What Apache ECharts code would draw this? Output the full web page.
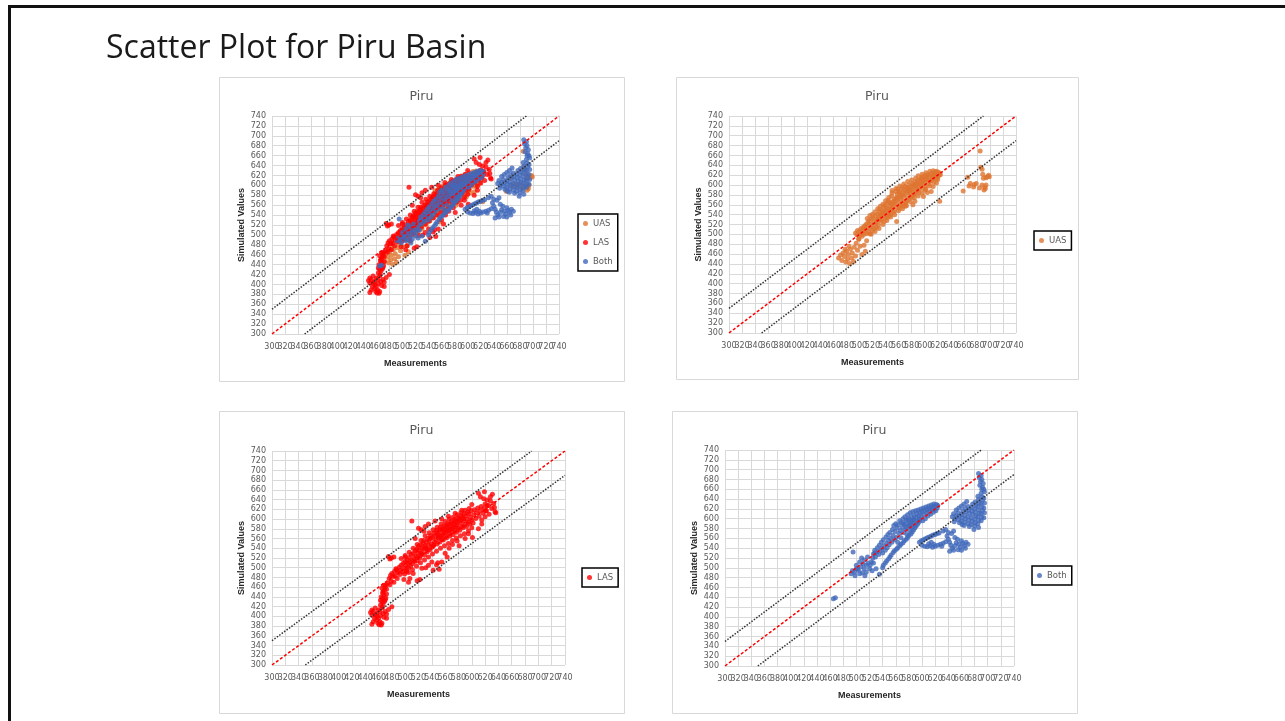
<!DOCTYPE html>
<html>
<head>
<meta charset="utf-8">
<title>Scatter Plot for Piru Basin</title>
<script src="https://cdn.jsdelivr.net/npm/echarts@6/dist/echarts.min.js"></script>
<style>
  html, body { margin: 0; padding: 0; background: #fff; }
  #slide { width: 1285px; height: 721px; }
</style>
</head>
<body>
<div id="slide"></div>
<script>
// axis range, same for both axes of every panel
const axisMin = 300;
const axisMax = 740;
const axisStep = 20;
// x tick labels are drawn by a category axis so every one shows (they overlap, as in Excel)
const xTickLabels = ['300','320','340','360','380','400','420','440','460','480','500','520',
  '540','560','580','600','620','640','660','680','700','720','740'];

// reference lines: 1:1 and +/-50
const oneToOne = [[300, 300], [740, 740]];
const upperBand = [[300, 350], [690, 740]];
const lowerBand = [[350, 300], [740, 690]];

// [measured, simulated]
const uasPoints = [
  // lower tail
  [468,452],[471,458],[473,447],[475,462],[477,455],[479,444],[480,466],[482,450],[483,459],[485,441],
  [486,470],[488,452],[489,462],[491,445],[492,474],[494,456],[495,482],[497,468],[499,490],[501,476],
  [504,459],[507,478],[509,466],[511,487],[478,470],[484,476],
  // main band
  [494,503],[496,499],[497,508],
  [499,491],[500,506],[501,498],[502,511],[503,503],
  [504,496],[505,514],[506,507],[507,500],[508,517],
  [509,509],[510,520],[511,502],[512,514],[513,524],
  [514,505],[515,527],[516,512],[517,520],[518,531],[516,501],
  [519,516],[520,508],[521,533],[522,524],[523,512],
  [524,537],[525,521],[526,514],[527,530],[528,541],[526,526],
  [529,519],[530,535],[531,545],[532,527],[533,539],[531,551],
  [534,530],[535,548],[536,537],[537,555],[538,526],[536,543],
  [539,559],[540,533],[541,548],[542,540],[543,563],[541,554],[543,534],
  [544,569],[545,545],[546,538],[547,558],[548,551],[546,565],[548,541],
  [549,578],[550,553],[551,566],[552,545],[553,572],[550,584],[552,559],
  [554,548],[555,562],[556,587],[557,575],[558,555],[556,570],[558,582],
  [559,592],[560,565],[561,553],[562,580],[563,571],[561,587],[563,559],
  [564,576],[565,594],[566,562],[567,585],[568,568],[566,557],[568,591],
  [569,581],[570,597],[571,566],[572,588],[573,574],[571,562],[573,595],
  [574,592],[575,570],[576,600],[577,583],[578,577],[576,588],
  [579,597],[580,575],[581,603],[582,587],[583,580],[581,592],
  [584,601],[585,583],[586,606],[587,594],[588,588],[586,598],
  [589,609],[590,590],[591,603],[592,596],[593,611],[591,585],
  [594,599],[595,614],[596,593],[597,607],[598,602],[596,616],
  [599,618],[600,605],[601,597],[602,612],[603,620],[601,590],
  [604,611],[605,621],[606,602],[607,616],[608,607],
  [609,623],[610,609],[611,618],[612,613],[613,625],
  [614,616],[615,623],[616,620],[617,626],[618,613],
  [619,622],[620,617],[621,626],[622,620],[623,624],[624,621],
  [538,546],[544,552],[553,566],[558,573],[562,585],[567,578],[574,585],[578,590],[583,598],[588,602],
  [593,606],[598,610],[603,615],[549,562],[534,538],[529,530],
  // upper edge of the band
  [512,532],[516,538],[520,541],[524,546],[528,552],[532,557],[536,561],[540,568],[545,575],[550,589],
  [556,593],[562,598],[568,602],[574,607],[580,610],[586,614],[590,619],[596,622],[602,625],[608,628],
  [613,629],[618,628],
  // lower edge of the band
  [518,500],[524,506],[530,512],[536,520],[542,528],[548,535],[554,540],[560,548],[566,552],[572,558],
  [578,566],[584,574],[590,578],[596,584],[602,592],[608,598],[614,606],[620,611],
  // below the band
  [557,526],[570,557],[582,560],[585,567],[598,577],[604,585],[610,587],[613,597],[618,604],[623,567],
  // right-hand group
  [659,588],[666,616],[668,598],[670,603],[675,596],[676,601],[679,603],[684,594],[685,669],[686,636],
  [688,600],[688,632],[689,622],[690,614],[691,590],[692,596],[693,593],[694,600],[694,615],[696,617],
  [698,620],[699,617]
];

const lasPoints = [
  // low cluster
  [448,408],[450,403],[450,413],[450,384],[452,389],[452,410],[454,396],[455,403],[455,417],[457,392],
  [457,406],[458,400],[459,386],[460,396],[460,413],[461,383],[462,389],[462,410],[463,402],[464,382],
  [465,386],[465,417],[467,406],[468,398],[470,410],[472,396],[472,405],[475,414],[480,420],
  // near-vertical streak
  [463,423],[463,433],[464,440],[465,430],[465,458],[466,420],[466,437],[466,448],[467,427],[467,451],
  [468,444],[468,464],[469,431],[469,455],[470,434],[470,461],[471,438],[471,465],[472,446],[472,456],
  // step up to the band
  [474,468],[476,478],[477,465],[479,472],[480,488],[482,482],[483,470],[484,492],[478,484],[486,498],
  [475,523],[477,518],[479,520],[483,522],[494,519],[500,522],
  // main band
  [485,483],[487,496],[488,478],[489,490],
  [491,501],[492,486],[493,495],[494,505],
  [496,491],[497,509],[498,499],[499,487],[500,513],
  [501,505],[502,496],[503,516],[504,509],[505,500],
  [506,521],[507,512],[508,503],[509,527],[510,516],
  [511,508],[512,529],[513,519],[514,513],[515,535],
  [516,524],[517,538],[518,514],[519,531],[520,544],[518,521],
  [521,536],[522,520],[523,547],[524,529],[525,540],[523,525],
  [526,531],[527,550],[528,539],[529,526],[530,545],[528,556],
  [531,541],[532,553],[533,533],[534,560],[535,546],[533,538],
  [536,556],[537,537],[538,566],[539,549],[540,542],[538,560],
  [541,562],[542,544],[543,571],[544,553],[545,566],[543,548],
  [546,557],[547,577],[548,549],[549,567],[550,561],[548,572],
  [551,574],[552,553],[553,583],[554,566],[555,558],[553,578],[551,563],
  [556,580],[557,557],[558,572],[559,587],[560,564],[558,577],[556,568],
  [561,585],[562,561],[563,577],[564,591],[565,569],[563,582],[561,573],
  [566,589],[567,565],[568,579],[569,595],[570,573],[568,585],[566,576],
  [571,592],[572,568],[573,583],[574,599],[575,576],[573,589],[571,580],
  [576,596],[577,573],[578,588],[579,603],[580,581],[578,593],[576,584],
  [581,600],[582,577],[583,592],[584,607],[585,585],[583,597],
  [586,604],[587,582],[588,596],[589,611],[590,589],[588,600],
  [591,607],[592,585],[593,600],[594,614],[595,594],
  [596,611],[597,590],[598,604],[599,617],[600,598],
  [602,592],[603,609],[604,619],[606,601],[607,613],[609,623],[611,606],[612,617],[614,626],[617,612],
  [618,622],[620,631],[622,617],[623,628],
  // outer edges of the band
  [500,525],[506,532],[512,540],[518,548],[524,556],[530,566],[536,572],[542,578],[548,583],[554,590],
  [560,595],[566,600],[572,604],[578,609],[584,613],[590,618],[596,622],
  [505,490],[511,496],[517,503],[523,510],[529,516],[535,522],[541,528],[547,534],[553,540],[559,545],
  [565,550],[571,556],[577,561],[583,566],[589,570],[595,576],[600,582],
  // below the band
  [498,476],[502,492],[505,470],[507,478],[512,488],[518,473],[522,476],[525,499],[531,500],[535,505],
  [540,512],[542,495],[547,506],[549,510],[551,497],[555,512],[560,530],[563,522],[566,540],[571,548],
  [578,555],[581,545],[590,560],[595,570],[601,562],[610,580],[615,590],
  // above the band
  [510,596],[515,560],[520,581],[524,578],[528,575],[530,585],[535,590],[545,596],[555,600],[565,606],
  [575,612],[585,618],[600,630],
  // upper end
  [610,653],[613,646],[615,598],[618,642],[619,656],[620,605],[621,617],[623,639],[625,628],[626,610],
  [628,637],[628,646],[630,622],[631,651],[633,632],[634,624],[635,615],[636,613]
];

const bothPoints = [
  // two low points
  [465,437],[468,439],
  // lower-left group
  [492,488],[494,494],[495,532],[497,491],[498,484],[500,498],[500,505],[502,498],[503,495],[505,488],
  [505,512],[507,502],[508,520],[509,490],[510,508],[512,498],[512,516],[513,484],[515,491],[515,505],
  [517,522],[518,510],[520,498],[521,505],[523,512],[525,520],[526,510],[528,530],
  [524,494],[530,498],[535,487],[540,500],
  // band along the 1:1 line
  [526,528],[528,536],[529,522],[531,531],[532,541],[534,527],[535,546],[536,535],[538,552],[539,540],
  [540,530],[541,557],[542,545],[544,536],[545,563],[546,550],[547,541],[548,568],[549,556],[550,547],
  [551,572],[552,560],[554,552],[555,578],[556,566],[557,586],[558,557],[559,574],[560,590],[561,562],
  [562,581],[563,552],[564,587],[565,570],[566,596],[567,576],[568,561],[569,592],[570,582],[571,600],
  [572,572],[573,588],[574,604],[575,578],[576,596],[577,568],[578,608],[579,586],[580,600],[581,576],
  [582,612],[583,592],[584,604],[585,582],[586,614],[587,598],[588,606],[589,588],[590,616],[591,602],
  [592,610],[593,594],[594,618],[595,606],[596,600],[597,612],[598,620],[599,604],[600,614],[601,596],
  [602,622],[603,608],[604,617],[605,600],[606,624],[607,612],[608,619],[609,606],[610,626],[611,615],
  [612,621],[613,609],[614,628],[615,618],[616,624],[617,613],[618,630],[619,620],[620,626],[621,616],
  [622,629],[623,622],[624,627],
  [572,590],[576,582],[580,590],[584,596],[588,598],[578,598],[582,584],[586,590],
  // thin curved arm under the band
  [541,505],[544,510],[546,514],[549,518],[551,522],[553,526],[556,531],[558,535],[561,538],[563,541],
  [566,545],[568,548],[571,551],[573,555],[576,558],[578,562],[580,566],[583,569],[585,573],[587,577],
  [589,581],[591,585],[593,589],[595,593],[596,597],
  // lower arm
  [596,552],[599,555],[602,557],[605,559],[608,561],[611,563],[614,565],[617,567],[620,568],[623,570],
  [626,571],[600,546],[604,544],[608,543],[612,545],[616,542],[620,544],[624,546],[628,548],[632,550],
  [636,553],[610,549],[618,548],[630,544],[614,552],
  // group under the right cluster
  [632,575],[636,578],[638,565],[640,558],[640,572],[642,534],[642,552],[644,546],[645,570],[646,540],
  [648,536],[648,575],[650,545],[650,562],[652,551],[654,558],[655,537],[656,548],[658,542],[660,536],
  [660,555],[662,550],[664,545],[666,540],[667,552],[670,548],
  // right cluster
  [646,604],[648,610],[649,594],[650,600],[652,606],[652,618],[655,598],[655,612],[656,605],[656,622],
  [657,592],[660,595],[660,609],[660,626],[661,588],[661,602],[662,616],[664,586],[664,630],[665,593],
  [665,607],[666,600],[666,621],[667,614],[668,635],[670,590],[670,604],[670,625],[671,597],[671,618],
  [672,584],[672,611],[675,588],[675,602],[675,623],[676,595],[676,616],[677,609],[677,630],[679,578],
  [680,585],[680,599],[680,620],[681,592],[681,613],[681,634],[682,606],[682,627],[685,590],[685,604],
  [685,625],[685,646],[686,582],[686,597],[686,618],[686,639],[686,692],[687,611],[687,632],[687,684],
  [688,668],[689,676],[690,596],[690,610],[690,631],[690,652],[690,688],[691,603],[691,624],[691,645],
  [691,660],[691,680],[692,617],[692,638],[692,664],[693,672],[694,602],[694,622],[694,642],[694,660],
  [695,612],[695,632],[695,655]
];

const seriesColors = { UAS: '#DF7430', LAS: '#FF0000', Both: '#4169BA' };
const seriesPoints = { UAS: uasPoints, LAS: lasPoints, Both: bothPoints };

// four panels on the slide: outer box, plot area, legend corner, series shown
const panels = [
  { box: [219, 77, 405, 304], grid: [272, 116, 287, 218], legend: [578, 214], names: ['UAS', 'LAS', 'Both'] },
  { box: [676, 77, 402, 302], grid: [729, 116, 287, 217], legend: [1034, 231], names: ['UAS'] },
  { box: [219, 411, 405, 302], grid: [272, 451, 293, 214], legend: [582, 568], names: ['LAS'] },
  { box: [672, 411, 405, 302], grid: [725, 450, 289, 216], legend: [1032, 566], names: ['Both'] }
];

const chart = echarts.init(document.getElementById('slide'));

const labelFont = { fontFamily: 'DejaVu Sans', fontSize: 8, color: '#595959' };
const nameFont = { fontFamily: 'Liberation Sans', fontWeight: 'bold', fontSize: 9, color: '#262626' };
const gridLine = { lineStyle: { color: '#D9D9D9', width: 1 } };

const series = [];
const xAxes = [];
panels.forEach((p, i) => {
  // value axis carries the data, grid lines and name
  xAxes.push({
    gridIndex: i, type: 'value', position: 'bottom', min: axisMin, max: axisMax, interval: axisStep,
    name: 'Measurements', nameLocation: 'middle', nameGap: 25, nameTextStyle: nameFont,
    axisLine: { show: false }, axisTick: { show: false }, axisLabel: { show: false },
    splitLine: gridLine
  });
  // label-only axis on the same spot
  xAxes.push({
    gridIndex: i, type: 'category', position: 'bottom', data: xTickLabels, boundaryGap: false,
    axisLine: { show: false }, axisTick: { show: false }, splitLine: { show: false },
    axisLabel: Object.assign({ interval: 0, margin: 9 }, labelFont)
  });
  series.push(
    { type: 'line', xAxisIndex: 2 * i, yAxisIndex: i, data: upperBand, symbol: 'none', silent: true,
      lineStyle: { color: '#333', width: 1.5, type: [1.5, 1.5] } },
    { type: 'line', xAxisIndex: 2 * i, yAxisIndex: i, data: lowerBand, symbol: 'none', silent: true,
      lineStyle: { color: '#333', width: 1.5, type: [1.5, 1.5] } },
    { type: 'line', xAxisIndex: 2 * i, yAxisIndex: i, data: oneToOne, symbol: 'none', silent: true,
      lineStyle: { color: '#FF0000', width: 1.5, type: [3, 2] } }
  );
  p.names.forEach(name => {
    series.push({
      type: 'scatter', name: name, xAxisIndex: 2 * i, yAxisIndex: i,
      data: seriesPoints[name], symbolSize: 5,
      itemStyle: { color: seriesColors[name] },
      emphasis: { disabled: true }
    });
  });
});

chart.setOption({
  animation: false,
  backgroundColor: '#fff',
  title: [
    { text: 'Scatter Plot for Piru Basin', left: 106, top: 33, padding: 0,
      textStyle: { fontFamily: 'Open Sans', fontSize: 32, fontWeight: 'normal', color: '#1a1a1a' } }
  ].concat(panels.map(p => ({
    text: 'Piru', left: p.box[0] + p.box[2] / 2, top: p.box[1] + 13, textAlign: 'center', padding: 0,
    textStyle: { fontFamily: 'DejaVu Sans', fontSize: 12.5, fontWeight: 'normal', color: '#595959' }
  }))),
  legend: panels.map(p => ({
    data: p.names, orient: 'vertical', left: p.legend[0], top: p.legend[1],
    icon: 'circle', itemWidth: 5, itemHeight: 5, itemGap: 8,
    padding: [4, 5, 4, 5], borderColor: '#000', borderWidth: 1.5,
    textStyle: { fontFamily: 'DejaVu Sans', fontSize: 8.5, color: '#595959', lineHeight: 11 },
    selectedMode: false
  })),
  grid: panels.map(p => ({
    left: p.grid[0], top: p.grid[1], width: p.grid[2], height: p.grid[3], outerBoundsMode: 'none'
  })),
  xAxis: xAxes,
  yAxis: panels.map((p, i) => ({
    gridIndex: i, type: 'value', min: axisMin, max: axisMax, interval: axisStep,
    name: 'Simulated Values', nameLocation: 'middle', nameRotate: 90, nameGap: 26, nameTextStyle: nameFont,
    axisLine: { show: false }, axisTick: { show: false },
    axisLabel: Object.assign({ margin: 6, showMinLabel: true, showMaxLabel: true }, labelFont),
    splitLine: gridLine
  })),
  graphic: [
    // slide edges
    { type: 'rect', shape: { x: 8, y: 5, width: 1277, height: 3 }, style: { fill: '#111' } },
    { type: 'rect', shape: { x: 8, y: 5, width: 3, height: 716 }, style: { fill: '#111' } }
  ].concat(panels.map(p => ({
    type: 'rect', shape: { x: p.box[0] + 0.5, y: p.box[1] + 0.5, width: p.box[2], height: p.box[3] },
    style: { fill: 'none', stroke: '#D9D9D9', lineWidth: 1 }
  }))),
  series: series
});
</script>
</body>
</html>
